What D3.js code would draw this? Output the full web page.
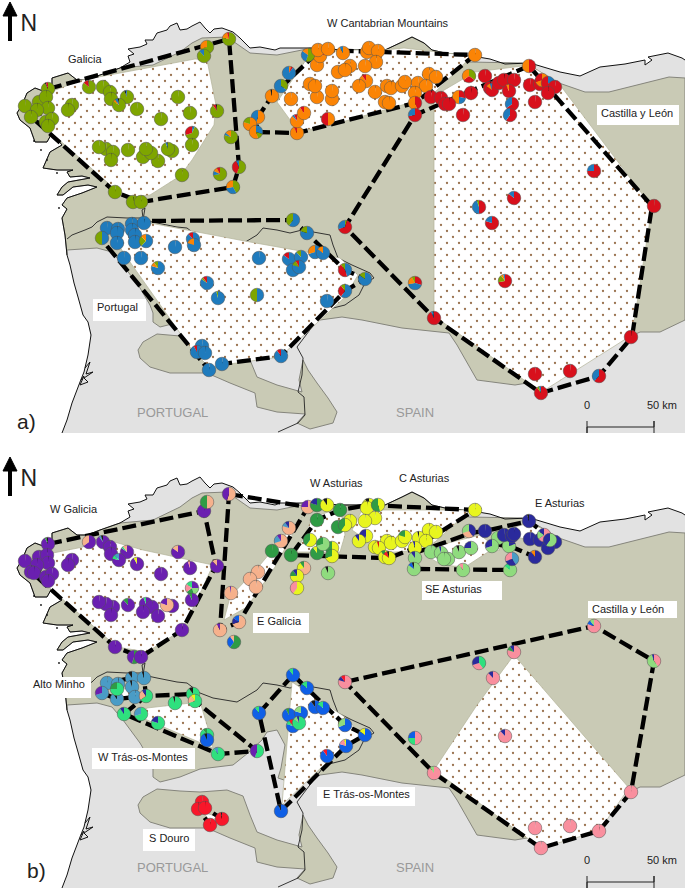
<!DOCTYPE html>
<html>
<head>
<meta charset="utf-8">
<script src="https://cdn.jsdelivr.net/npm/d3@7"></script>
<style>
  html, body { margin: 0; padding: 0; background: #fff; }
  svg { display: block; }
  text { font-family: "Liberation Sans", Arial, sans-serif; fill: #222; }
</style>
</head>
<body>
<div id="viz"></div>
<script>
// all geometry below is in map units (same map extent for both panels)
const coastSouth = [[62,433],[67,420],[72,403],[80,382],[84,372],[88,355],[91,335],[88,322],[83,315],[78,297],[74,283],[70,265]];
const coastWest = [[67,255],[65,235],[62,218],[67,209],[62,205],[67,198],[82,193],[97,187],[88,185],[73,187],[63,195],[57,195],[62,187],[68,182],[90,178],[82,176],[70,177],[67,172],[73,170],[57,170],[43,168],[50,152],[62,145],[52,133],[47,142],[35,142],[30,128],[20,120],[17,113],[22,105],[27,93],[35,88],[43,91],[52,85],[52,78],[68,73],[77,80],[87,80],[100,75],[120,68]];
const coastNorth = [[130,62],[128,56],[134,54],[128,49],[140,47],[147,44],[145,40],[153,40],[157,33],[167,30],[170,26],[177,23],[180,30],[187,29],[192,26],[200,22],[205,28],[210,33],[214,29],[222,28],[233,32],[240,38],[250,48],[260,47],[275,50],[280,48],[302,48]];
const coastEast = [[310,48],[342,50],[365,50],[385,50],[402,42],[412,37],[424,43],[432,50],[445,53]];
const coastFar = [[472,56],[490,59],[505,64],[530,63],[560,72],[580,76],[600,67],[625,64],[645,60],[645,65],[652,60],[648,57],[668,53],[682,58],[685,60]];
const coast = [].concat(coastSouth, coastWest, coastNorth, coastEast, coastFar);
const rangeTop = [[153,65],[180,52],[192,43],[202,38],[227,37],[250,53],[277,55],[302,50],[310,48],[342,50],[365,50],[385,50],[402,42],[412,37],[424,43],[432,50],[445,53],[469,62],[522,63],[532,67],[559,83],[585,92],[609,92],[669,77],[685,78]];
const rangeBottom = [[685,320],[660,332],[640,332],[619,342],[527,383],[515,385],[477,380],[457,345],[449,333],[402,328],[362,320],[342,317],[320,320],[290,327],[278,323],[281,313],[285,290],[277,275],[267,277],[262,285],[248,298],[233,310],[200,314],[180,322],[160,327],[153,322],[153,313],[150,305],[140,288],[123,265],[112,252],[97,248],[67,250]];
const douroLobe = [[138,350],[143,342],[157,334],[180,336],[200,337],[227,335],[243,341],[250,360],[257,377],[277,385],[302,392],[299,380],[303,360],[308,370],[317,383],[328,398],[337,412],[333,423],[310,429],[297,423],[305,414],[277,412],[257,407],[255,393],[230,383],[207,373],[170,373],[150,367],[140,358]];
const border = [[67,239],[72,235],[85,230],[92,227],[97,222],[107,217],[127,218],[143,218],[142,210],[145,208],[143,220],[157,223],[177,227],[187,228],[200,238],[213,243],[237,247],[257,235],[263,228],[277,230],[290,233],[302,230],[330,235],[333,245],[338,258],[352,265],[370,273],[374,278],[365,283],[359,295],[345,305],[325,310],[297,347],[303,358],[302,375],[298,392],[304,397],[305,415],[298,423],[278,432]];
const ria = [[85,368],[90,362],[86,374],[93,372],[84,378],[88,382],[80,385],[84,376],[81,380]];
const islets = [[34,141],[47,160],[57,173],[41,150],[59,208]];

// sampling sites: [x, y, dominant cluster] or [x, y, {cluster: share}]
const galiciaA = [[48,89,{g:.92,k:.03,r:.05}],[89,87,{g:.86,r:.12,k:.02}],[103,87,"g"],[110,92,"g"],[127,97,{g:.93,k:.04,b:.03}],[111,99,"g"],[119,105,{g:.84,o:.06,b:.07,k:.03}],[137,109,"g"],[178,97,"g"],[190,113,"g"],[161,119,"g"],[217,111,{g:.9,r:.07,k:.03}],[72,105,"g"],[68,110,"g"],[25,106,"g"],[39,102,"g"],[46,97,"g"],[48,108,"g"],[37,110,"g"],[31,117,"g"],[46,122,"g"],[52,119,"g"],[48,126,"g"],[192,133,{k:.02,b:.05,g:.63,r:.3}],[192,145,"g"],[231,137,{g:.8,b:.06,o:.14}],[239,167,{g:.55,r:.38,b:.07}],[220,174,{g:.72,b:.1,o:.1,r:.08}],[233,187,{g:.42,b:.3,o:.28}],[182,175,"g"],[158,161,"g"],[143,157,"g"],[151,153,"g"],[146,149,"g"],[172,151,"g"],[168,149,{g:.94,b:.04,k:.02}],[128,150,"g"],[106,149,"g"],[99,147,"g"],[113,152,"g"],[111,160,"g"],[115,192,"g"],[133,202,"g"],[141,202,"g"],[207,47,{g:.7,o:.3}],[204,56,{g:.88,b:.12}],[229,39,{g:.78,o:.17,r:.05}]];
const cantabrianA = [[272,96,{o:.96,k:.04}],[258,117,{o:.55,b:.45}],[250,124,{o:.8,g:.2}],[256,132,{b:.3,g:.15,o:.55}],[297,133,{o:.92,r:.08}],[297,121,{o:.88,b:.05,r:.07}],[304,113,{o:.9,r:.1}],[328,119,{o:.5,r:.5}],[291,99,"o"],[332,99,"o"],[317,97,"o"],[332,91,"o"],[310,84,"o"],[315,86,"o"],[317,65,"o"],[320,56,{r:.2,o:.8}],[308,55,{g:.55,b:.3,o:.15}],[318,50,"o"],[328,49,"o"],[338,72,"o"],[343,53,{o:.92,b:.08}],[367,52,"o"],[369,48,"o"],[378,51,"o"],[376,62,"o"],[365,66,"o"],[350,66,"o"],[345,70,"o"],[366,81,{o:.9,r:.1}],[359,86,"o"],[375,92,"o"],[387,86,"o"],[391,88,"o"],[402,86,"o"],[405,82,"o"],[418,83,"o"],[429,74,"o"],[436,77,"o"],[426,86,"o"],[415,93,"o"],[385,102,"o"],[389,103,"o"],[415,103,{r:.45,o:.55}],[475,55,"o"],[459,97,{r:.28,b:.22,o:.5}]];
const mixedA = [[289,73,{o:.05,r:.05,b:.9}],[281,86,{g:.35,b:.65}]];
const redA = [[415,115,{r:.72,b:.28}],[431,97,"r"],[441,98,"r"],[445,104,"r"],[449,104,"r"],[463,115,"r"],[471,93,"r"],[469,76,{g:.35,r:.3,o:.35}],[485,76,"r"],[490,88,"r"],[492,90,{r:.85,o:.1,b:.05}],[499,83,"r"],[504,80,"r"],[514,80,"r"],[509,91,{r:.93,o:.07}],[512,104,{r:.65,b:.35}],[510,115,{r:.6,b:.4}],[529,66,{r:.5,o:.5}],[530,85,"r"],[540,84,"r"],[542,80,{o:.7,r:.3}],[548,83,{b:.3,r:.7}],[555,87,"r"],[548,93,"r"],[535,102,"r"],[594,171,{r:.75,b:.25}],[514,198,{r:.86,b:.14}],[479,207,{r:.5,b:.45,g:.05}],[654,206,"r"],[345,227,{g:.05,r:.65,b:.3}],[492,223,{r:.8,b:.2}],[505,281,{r:.72,g:.18,o:.06,b:.04}],[434,318,{r:.93,b:.05,k:.02}],[535,374,"r"],[570,371,"r"],[599,376,{r:.62,b:.38}],[631,337,"r"],[541,393,{r:.9,g:.05,b:.05}],[415,283,{r:.3,b:.42,o:.2,g:.08}]];
const portugalA = [[107,228,"b"],[102,238,{b:.5,g:.5}],[118,229,"b"],[117,233,"b"],[117,243,"b"],[132,224,"b"],[132,230,"b"],[135,235,"b"],[135,242,"b"],[146,241,{b:.62,g:.25,o:.13}],[144,223,"b"],[124,258,"b"],[141,258,"b"],[158,268,{b:.8,o:.1,g:.1}],[175,247,"b"],[193,239,{b:.88,r:.12}],[194,245,{b:.8,o:.2}],[259,258,"b"],[289,259,{b:.85,r:.15}],[301,257,{b:.88,g:.12}],[293,270,"b"],[299,267,{b:.8,g:.12,r:.08}],[315,252,{b:.7,o:.3}],[323,253,{b:.85,o:.15}],[293,220,{b:.6,g:.4}],[307,233,{b:.8,g:.2}],[207,283,{b:.85,g:.05,r:.1}],[218,298,{b:.96,g:.04}],[257,295,{b:.5,g:.5}],[327,301,"b"],[202,346,"b"],[197,352,{b:.92,r:.08}],[205,353,"b"],[209,370,"b"],[222,364,"b"],[281,356,{b:.9,r:.1}],[345,270,{b:.45,r:.45,g:.1}],[345,291,{b:.6,r:.3,g:.1}],[365,279,{b:.85,g:.15}]];

const galiciaB = [[48,89,{p:.92,d:.04,k:.04}],[89,87,{p:.65,e:.35}],[103,87,{p:.9,s:.05,k:.05}],[110,92,"p"],[127,97,{p:.85,m:.05,e:.1}],[111,99,"p"],[119,105,{p:.78,m:.1,s:.12}],[137,109,{p:.92,y:.08}],[178,97,{p:.85,e:.15}],[190,113,{p:.95,i:.05}],[161,119,"p"],[217,111,{p:.88,e:.12}],[72,105,"p"],[68,110,"p"],[25,106,"p"],[39,102,"p"],[47,100,"p"],[48,108,"p"],[37,110,"p"],[31,117,"p"],[34,118,"p"],[46,122,"p"],[52,119,"p"],[48,126,"p"],[192,133,{p:.25,l:.2,d:.2,i:.2,m:.15}],[192,145,{p:.93,d:.07}],[172,151,"p"],[167,150,{e:.8,p:.2}],[128,150,{p:.88,d:.12}],[146,149,{p:.94,m:.06}],[152,152,"p"],[143,157,"p"],[158,161,"p"],[113,152,"p"],[106,149,"p"],[99,147,"p"],[111,160,"p"],[115,192,"p"],[134,202,{d:.55,p:.45}],[141,202,"p"],[204,56,"p"],[207,47,{e:.5,d:.5}],[229,39,{e:.55,p:.45}],[182,175,"p"]];
const galiciaEB = [[308,52,{e:.75,p:.25}],[289,73,{e:.8,s:.1,n:.1}],[281,86,{e:.7,s:.2,p:.1}],[258,117,"e"],[250,124,"e"],[256,132,"e"],[231,138,{e:.97,p:.03}],[239,167,{e:.7,n:.15,u:.15}],[220,175,{e:.92,p:.08}],[234,187,{d:.6,u:.3,e:.1}],[304,113,{e:.7,y:.2,d:.1}]];
const asturiasWB = [[317,65,"d"],[272,96,"d"],[291,100,"d"],[317,50,{d:.8,n:.2}],[340,55,"d"],[338,72,"d"],[310,85,{y:.6,d:.4}],[317,98,{d:.9,y:.1}],[332,93,{y:.5,d:.5}],[332,101,{y:.7,d:.3}],[328,118,{l:.93,k:.07}],[297,121,{y:.75,d:.15,n:.1}],[297,133,{y:.6,i:.4}],[327,50,{y:.9,k:.1}],[323,89,{l:.7,d:.3}]];
const asturiasCB = [[369,50,{y:.9,k:.1}],[367,53,"y"],[378,50,{y:.45,d:.55}],[375,63,"y"],[365,66,"y"],[350,66,"y"],[345,70,{y:.6,d:.4}],[366,81,{y:.55,n:.45}],[359,86,{y:.9,n:.1}],[375,92,"y"],[387,86,"y"],[379,93,{y:.95,r:.05}],[391,88,"y"],[402,86,"y"],[405,82,{y:.8,d:.2}],[419,83,{y:.96,k:.04}],[429,75,"y"],[436,77,"y"],[426,86,"y"],[415,93,{y:.95,n:.05}],[385,102,{y:.9,d:.1}],[389,103,{y:.85,x:.1,k:.05}],[475,55,"y"]];
const asturiasSEB = [[415,103,{l:.9,n:.1}],[431,97,"l"],[441,98,{l:.95,n:.05}],[448,104,"l"],[444,104,"l"],[459,97,{l:.93,k:.07}],[471,93,{l:.75,n:.25}],[469,76,{n:.4,e:.3,l:.3}],[498,83,"l"],[492,91,{l:.7,n:.3}],[509,91,{n:.2,l:.8}],[414,114,{l:.85,u:.1,k:.05}],[463,115,{l:.9,i:.1}],[510,115,{l:.85,m:.15}]];
const asturiasEB = [[485,76,"n"],[504,80,"n"],[512,81,"n"],[514,79,"n"],[529,66,{n:.95,k:.05}],[530,84,"n"],[540,85,"n"],[544,80,{i:.65,l:.2,n:.15}],[555,87,"n"],[548,93,"n"],[535,102,{n:.9,o:.1}],[550,85,{l:.6,n:.4}],[512,104,{s:.4,n:.3,i:.3}]];
const castillaB = [[594,171,{i:.8,u:.1,l:.1}],[514,197,{i:.8,d:.1,n:.1}],[479,208,{m:.4,i:.3,n:.3}],[654,206,{i:.4,l:.55,n:.05}],[345,227,{i:.8,n:.1,x:.1}],[493,223,{i:.88,n:.12}],[505,281,{i:.88,n:.12}],[415,283,{i:.5,m:.25,u:.25}],[434,318,{i:.9,l:.1}],[535,373,"i"],[570,371,"i"],[599,376,"i"],[631,337,"i"],[541,393,"i"]];
const minhoB = [[107,228,"s"],[102,238,{s:.7,p:.3}],[118,229,"s"],[117,244,{s:.9,k:.1}],[132,223,{s:.9,k:.1}],[132,232,{s:.95,k:.05}],[135,242,"s"],[144,223,{s:.95,k:.05}]];
const trasWB = [[117,234,{m:.75,d:.25}],[146,241,{m:.65,e:.25,n:.1}],[124,259,{m:.9,n:.1}],[141,259,{m:.7,s:.3}],[158,268,{m:.8,n:.2}],[175,248,{m:.95,k:.05}],[193,239,{m:.9,k:.1}],[195,246,{m:.7,e:.2,y:.1}],[207,280,{m:.9,d:.1}],[218,299,{m:.9,s:.1}],[257,296,{m:.55,p:.45}]];
const trasEB = [[207,285,{u:.93,k:.07}],[259,258,{u:.9,m:.1}],[289,260,{u:.92,d:.08}],[301,258,{u:.8,l:.2}],[293,271,{u:.8,m:.1,x:.1}],[299,268,{m:.85,l:.1,n:.05}],[315,252,{u:.9,k:.1}],[323,253,{u:.85,m:.15}],[293,220,{u:.9,m:.1}],[307,233,{u:.85,m:.15}],[345,270,{u:.7,l:.3}],[365,280,{u:.85,y:.15}],[346,291,{u:.8,i:.15,y:.05}],[327,301,{u:.9,x:.1}],[281,356,{u:.93,k:.07}]];
const douroB = [[202,347,"x"],[198,354,"x"],[205,353,"x"],[210,370,"x"],[222,364,{x:.97,k:.03}]];

// dashed hulls, closed ones repeat their first point
const hullsA = [
  [[48,89],[229,39],[239,167],[233,187],[141,202],[115,192],[37,122],[48,89]],
  [[256,132],[297,133],[415,103],[475,55],[320,50],[272,96],[258,117],[256,132]],
  [[529,66],[652,206],[632,337],[599,376],[541,393],[434,318],[345,227],[415,115],[529,66]],
  [[107,246],[209,370],[222,364],[281,356],[345,291],[365,279],[345,270],[293,220],[144,221]],
];
const hatchA = [
  [[50,92],[82,80],[120,73],[195,59],[207,60],[216,105],[214,125],[192,160],[180,176],[150,195],[125,198],[48,130]],
  [[277,102],[308,57],[342,50],[385,50],[404,48],[472,56],[432,95],[409,103],[342,122],[307,130],[296,128]],
  [[434,96],[475,72],[530,65],[560,85],[652,207],[632,335],[548,388],[541,392],[434,316]],
  [[122,226],[150,223],[250,242],[340,258],[358,275],[345,297],[318,322],[280,357],[222,365],[210,368],[192,350],[130,262],[115,240]],
];
const hullsB = [
  [[48,89],[204,56],[216,111],[182,175],[141,202],[115,192],[37,122],[48,89]],
  [[229,39],[308,52],[239,167],[220,175],[229,39]],
  [[385,103],[291,100],[317,65],[340,55],[369,50]],
  [[369,50],[475,55],[415,93],[389,103]],
  [[512,100],[510,115],[414,114]],
  [[415,98],[471,78]],
  [[470,78],[485,76],[529,66],[555,87],[535,102],[512,92],[490,88]],
  [[345,227],[594,171],[654,206],[631,337],[599,376],[541,393],[434,318],[345,227]],
  [[102,238],[107,228],[132,223],[144,223],[146,241],[135,242],[117,244],[102,238]],
  [[124,259],[146,241],[193,239],[195,246],[257,296],[218,299],[124,259]],
  [[293,220],[259,258],[281,356],[346,291],[365,280],[345,270],[293,220]],
  [[202,347],[198,354],[210,370],[222,364],[205,353]],
];
const hatchB = [
  [[53,98],[83,92],[100,83],[143,95],[213,110],[197,145],[182,175],[147,197],[117,192],[43,127]],
  [[224,165],[230,142],[260,110],[296,67],[302,62],[275,112],[247,152]],
  [[297,97],[312,63],[328,57],[342,62],[345,80],[340,97]],
  [[352,75],[362,55],[470,55],[435,87],[422,95],[382,98],[362,82]],
  [[425,100],[442,110],[465,112],[488,97],[500,95],[480,80],[440,90]],
  [[515,72],[529,68],[550,77],[535,85],[520,83]],
  [[434,315],[477,250],[514,200],[527,215],[629,333],[599,376],[541,393]],
  [[118,235],[135,232],[140,240],[120,243]],
  [[147,253],[200,247],[208,273],[213,293],[140,262]],
  [[292,227],[282,350],[345,290],[362,280],[345,262]],
  [[203,357],[218,362],[210,366]],
];

const labelsA = [["Galicia",68,63],["W Cantabrian Mountains",327,27],["Castilla y León",601,117],["Portugal",97,311]];
const boxesA = [[597,105,679,125],[93,299,146,321]];
const labelsB = [["W Galicia",50,58],["W Asturias",310,32],["C Asturias",399,27],["E Asturias",535,52],["SE Asturias",425,138],["Castilla y León",592,158],["E Galicia",257,170],["Alto Minho",33,233],["W Trás-os-Montes",98,306],["S Douro",149,387],["E Trás-os-Montes",323,343]];
const boxesB = [[422,126,502,145],[588,146,677,163],[253,158,309,178],[28,222,91,243],[92,293,195,314],[143,374,195,396],[317,332,415,351]];

const clusterColors = { g:"#7ea500", o:"#fb8405", r:"#d8101c", b:"#1f7bbd", k:"#1a1a1a",
  p:"#6a1fb0", e:"#f6b18c", d:"#2f9b45", y:"#e8f51e", l:"#8fdb7e", n:"#2a2a9c",
  s:"#4a9cc6", m:"#2fe07e", u:"#0f5fe6", x:"#f8172a", i:"#f98f9e" };

const W = 685, H = 892;
const mapH = 433, panelGap = 455;
const pieR = 6.8;

const svg = d3.select("#viz").append("svg").attr("width", W).attr("height", H);
const defs = svg.append("defs");

const pat = defs.append("pattern").attr("id", "dots").attr("patternUnits", "userSpaceOnUse")
  .attr("width", 12).attr("height", 12);
pat.append("rect").attr("width", 12).attr("height", 12).attr("fill", "#fff");
pat.selectAll("circle").data([[3,3],[9,9]]).join("circle")
  .attr("cx", d => d[0]).attr("cy", d => d[1]).attr("r", 1.15).attr("fill", "#9a7350");

const x = d3.scaleLinear().domain([0, W]).range([0, W]);
const arc = d3.arc().innerRadius(0).outerRadius(pieR);
const pie = d3.pie().sort(null).value(d => d[1]);

function drawPanel(id, offset, opts) {
  const y = d3.scaleLinear().domain([0, mapH]).range([offset, offset + mapH]);
  const line = d3.line().x(d => x(d[0])).y(d => y(d[1]));
  const g = svg.append("g");

  defs.append("clipPath").attr("id", "clip" + id).append("rect")
    .attr("x", 0).attr("y", offset).attr("width", W).attr("height", mapH);
  const map = g.append("g").attr("clip-path", `url(#clip${id})`);

  // land, mountain range, lobe
  map.append("path").datum(coast.concat([[W, 60], [W, mapH], [62, mapH]]))
    .attr("d", d => line(d) + "Z").attr("fill", "#e2e2e2");
  map.append("path").datum(coastWest.concat(rangeTop, rangeBottom))
    .attr("d", d => line(d) + "Z").attr("fill", "#c9cab5").attr("stroke", "#85857c").attr("stroke-width", 1);
  map.append("path").datum(douroLobe)
    .attr("d", d => line(d) + "Z").attr("fill", "#c9cab5").attr("stroke", "#85857c").attr("stroke-width", 1);

  map.append("path").datum(border).attr("d", line).attr("fill", "none").attr("stroke", "#222").attr("stroke-width", 0.9);
  map.append("path").datum(coast).attr("d", line).attr("fill", "none").attr("stroke", "#111").attr("stroke-width", 1);
  map.append("path").datum(ria).attr("d", line).attr("fill", "none").attr("stroke", "#111").attr("stroke-width", 1);
  map.selectAll("circle.islet").data(islets).join("circle").attr("class", "islet")
    .attr("cx", d => x(d[0])).attr("cy", d => y(d[1])).attr("r", 0.9).attr("fill", "#111");

  // hatched areas, dashed hulls
  map.selectAll("path.hatch").data(opts.hatch).join("path").attr("class", "hatch")
    .attr("d", d => line(d) + "Z").attr("fill", "url(#dots)").attr("stroke", "#b3b39a").attr("stroke-width", 0.7);
  map.selectAll("path.hull").data(opts.hulls).join("path").attr("class", "hull")
    .attr("d", line).attr("fill", "none").attr("stroke", "#000")
    .attr("stroke-width", 4.3).attr("stroke-dasharray", "14 5");

  // label boxes and names
  g.selectAll("rect.box").data(opts.boxes).join("rect").attr("class", "box")
    .attr("x", d => x(d[0])).attr("y", d => y(d[1]))
    .attr("width", d => x(d[2]) - x(d[0])).attr("height", d => y(d[3]) - y(d[1]))
    .attr("fill", "#fff");
  g.selectAll("text.name").data(opts.labels).join("text").attr("class", "name")
    .attr("x", d => x(d[1])).attr("y", d => y(d[2])).attr("font-size", 11).text(d => d[0]);

  // pies
  const pies = g.selectAll("g.site").data(opts.sites).join("g").attr("class", "site")
    .attr("transform", d => `translate(${x(d[0])},${y(d[1])})`);
  pies.selectAll("path").data(d => {
    const mix = typeof d[2] === "string" ? { k: 0.014, [d[2]]: 0.986 } : d[2];
    return pie(Object.entries(mix));
  }).join("path").attr("d", arc).attr("fill", d => clusterColors[d.data[0]]);
  pies.append("circle").attr("r", pieR).attr("fill", "none").attr("stroke", "#555").attr("stroke-width", 0.5);

  // north arrow
  g.append("path").datum([[10, 41], [10, 16], [3, 16], [10, 2], [17, 16], [10, 16]])
    .attr("d", d => line(d) + "Z").attr("fill", "#000").attr("stroke", "#000").attr("stroke-width", 1);
  g.append("rect").attr("x", x(8)).attr("y", y(14)).attr("width", 4).attr("height", y(41) - y(14)).attr("fill", "#000");
  g.append("text").attr("x", x(20.5)).attr("y", y(31)).attr("font-size", 23).text("N");

  // country names
  g.selectAll("text.country").data([["PORTUGAL", 137], ["SPAIN", 396]]).join("text").attr("class", "country")
    .attr("x", d => x(d[1])).attr("y", y(417)).attr("font-size", 13).style("fill", "#999").text(d => d[0]);

  // scale bar
  g.append("text").attr("x", x(587)).attr("y", y(409)).attr("font-size", 11).attr("text-anchor", "middle").text("0");
  g.append("text").attr("x", x(647)).attr("y", y(409)).attr("font-size", 11).text("50 km");
  g.append("path").datum([[587, 421], [587, 433], [587, 427], [654, 427], [654, 421], [654, 433]])
    .attr("d", line).attr("fill", "none").attr("stroke", "#222").attr("stroke-width", 1);

  g.append("text").attr("x", x(opts.tagX)).attr("y", y(opts.tagY)).attr("font-size", 21).text(opts.tag);
}

drawPanel("a", 0, {
  sites: [].concat(galiciaA, cantabrianA, mixedA, redA, portugalA),
  hulls: hullsA, hatch: hatchA, labels: labelsA, boxes: boxesA, tag: "a)", tagX: 17, tagY: 429,
});
drawPanel("b", panelGap, {
  sites: [].concat(galiciaB, galiciaEB, asturiasWB, asturiasCB, asturiasSEB, asturiasEB, castillaB, minhoB, trasWB, trasEB, douroB),
  hulls: hullsB, hatch: hatchB, labels: labelsB, boxes: boxesB, tag: "b)", tagX: 27, tagY: 423,
});
</script>
</body>
</html>
